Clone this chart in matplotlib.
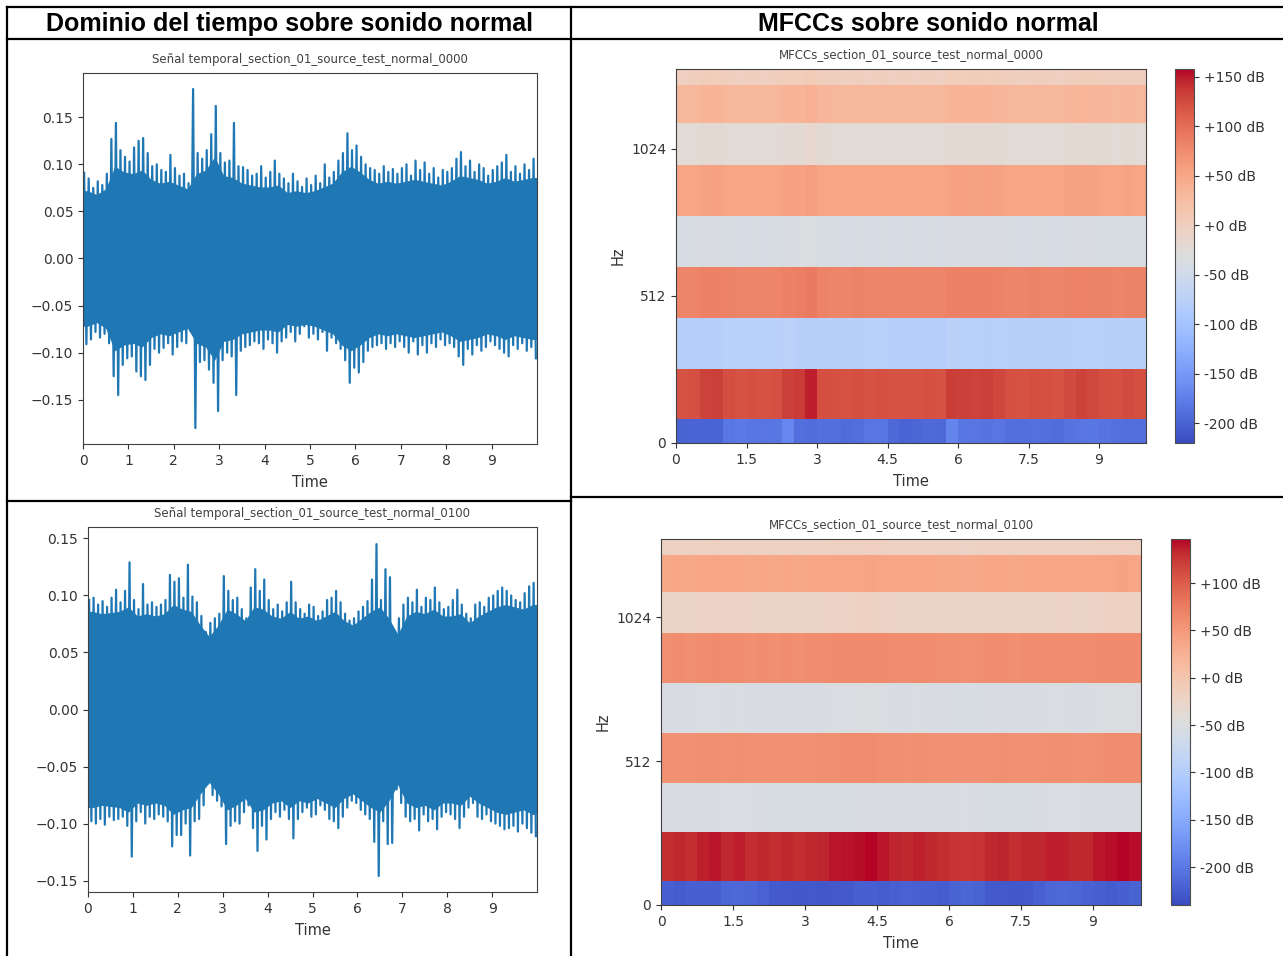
import numpy as np
import matplotlib
matplotlib.use("Agg")
import matplotlib.pyplot as plt
from matplotlib.lines import Line2D
from matplotlib.ticker import FormatStrFormatter
from matplotlib.transforms import Bbox

W, H = 1283, 956

col_titles = ["Dominio del tiempo sobre sonido normal", "MFCCs sobre sonido normal"]
clip_names = ["section_01_source_test_normal_0000", "section_01_source_test_normal_0100"]

# ---- waveform envelopes ----
# spike peaks every 0.1 s
peak_t = np.arange(100) * 0.1 + 0.05
# level up to which the trace is solid, every 0.2 s
core_t = np.arange(50) * 0.2 + 0.1

upper_0000 = [0.091, 0.085, 0.075, 0.082, 0.078, 0.090, 0.127, 0.144, 0.115, 0.108,
              0.103, 0.118, 0.125, 0.128, 0.112, 0.098, 0.100, 0.094, 0.092, 0.110,
              0.096, 0.088, 0.090, 0.080, 0.180, 0.112, 0.106, 0.115, 0.132, 0.162,
              0.112, 0.102, 0.104, 0.144, 0.098, 0.097, 0.094, 0.088, 0.090, 0.098,
              0.086, 0.092, 0.104, 0.090, 0.085, 0.080, 0.090, 0.082, 0.076, 0.085,
              0.078, 0.088, 0.080, 0.100, 0.086, 0.092, 0.104, 0.112, 0.133, 0.115,
              0.120, 0.108, 0.100, 0.096, 0.094, 0.090, 0.098, 0.092, 0.095, 0.090,
              0.096, 0.100, 0.088, 0.104, 0.094, 0.102, 0.090, 0.096, 0.086, 0.094,
              0.092, 0.096, 0.106, 0.113, 0.098, 0.104, 0.092, 0.100, 0.096, 0.088,
              0.094, 0.098, 0.102, 0.110, 0.092, 0.098, 0.090, 0.100, 0.094, 0.106]
lower_0000 = [-0.091, -0.086, -0.078, -0.084, -0.080, -0.090, -0.125, -0.145, -0.113, -0.106,
              -0.104, -0.120, -0.125, -0.129, -0.113, -0.096, -0.100, -0.095, -0.090, -0.102,
              -0.094, -0.088, -0.090, -0.077, -0.180, -0.110, -0.108, -0.118, -0.132, -0.162,
              -0.108, -0.100, -0.104, -0.145, -0.098, -0.094, -0.092, -0.088, -0.090, -0.096,
              -0.086, -0.090, -0.100, -0.088, -0.084, -0.078, -0.088, -0.080, -0.072, -0.084,
              -0.080, -0.086, -0.078, -0.098, -0.084, -0.090, -0.096, -0.108, -0.132, -0.116,
              -0.121, -0.110, -0.098, -0.094, -0.092, -0.090, -0.096, -0.090, -0.094, -0.088,
              -0.094, -0.100, -0.088, -0.102, -0.092, -0.100, -0.090, -0.094, -0.086, -0.092,
              -0.090, -0.094, -0.104, -0.113, -0.096, -0.102, -0.092, -0.098, -0.094, -0.088,
              -0.092, -0.096, -0.100, -0.104, -0.092, -0.096, -0.090, -0.098, -0.094, -0.106]
core_0000 = [0.072, 0.068, 0.074, 0.098, 0.092, 0.090, 0.094, 0.084, 0.080, 0.082,
             0.078, 0.074, 0.090, 0.094, 0.108, 0.088, 0.086, 0.080, 0.078, 0.076,
             0.076, 0.078, 0.070, 0.072, 0.070, 0.072, 0.076, 0.080, 0.092, 0.098,
             0.092, 0.084, 0.080, 0.082, 0.080, 0.082, 0.084, 0.082, 0.080, 0.078,
             0.082, 0.088, 0.086, 0.084, 0.080, 0.082, 0.086, 0.082, 0.084, 0.086]

upper_0100 = [0.096, 0.098, 0.092, 0.095, 0.090, 0.098, 0.105, 0.094, 0.104, 0.129,
              0.096, 0.088, 0.110, 0.092, 0.094, 0.090, 0.092, 0.096, 0.118, 0.112,
              0.115, 0.098, 0.127, 0.099, 0.094, 0.082, 0.068, 0.076, 0.080, 0.084,
              0.117, 0.104, 0.096, 0.098, 0.088, 0.080, 0.107, 0.123, 0.104, 0.114,
              0.096, 0.088, 0.092, 0.086, 0.094, 0.112, 0.094, 0.088, 0.084, 0.092,
              0.090, 0.082, 0.086, 0.096, 0.098, 0.104, 0.094, 0.084, 0.078, 0.080,
              0.086, 0.090, 0.095, 0.114, 0.145, 0.096, 0.123, 0.116, 0.068, 0.080,
              0.092, 0.098, 0.094, 0.105, 0.090, 0.098, 0.096, 0.107, 0.094, 0.088,
              0.090, 0.096, 0.105, 0.092, 0.084, 0.080, 0.092, 0.094, 0.090, 0.098,
              0.100, 0.104, 0.107, 0.104, 0.100, 0.096, 0.094, 0.102, 0.108, 0.111]
lower_0100 = [-0.098, -0.100, -0.096, -0.101, -0.094, -0.097, -0.096, -0.094, -0.102, -0.129,
              -0.098, -0.090, -0.100, -0.094, -0.096, -0.092, -0.094, -0.098, -0.120, -0.110,
              -0.110, -0.100, -0.128, -0.098, -0.096, -0.084, -0.065, -0.075, -0.080, -0.085,
              -0.118, -0.102, -0.098, -0.100, -0.090, -0.084, -0.104, -0.124, -0.102, -0.114,
              -0.096, -0.090, -0.094, -0.088, -0.096, -0.113, -0.096, -0.090, -0.086, -0.094,
              -0.092, -0.084, -0.088, -0.096, -0.098, -0.104, -0.094, -0.086, -0.080, -0.082,
              -0.088, -0.092, -0.096, -0.116, -0.146, -0.098, -0.118, -0.117, -0.070, -0.082,
              -0.094, -0.098, -0.096, -0.106, -0.092, -0.098, -0.096, -0.105, -0.094, -0.090,
              -0.092, -0.096, -0.104, -0.094, -0.086, -0.082, -0.094, -0.096, -0.092, -0.098,
              -0.100, -0.102, -0.105, -0.104, -0.102, -0.107, -0.100, -0.104, -0.108, -0.111]
core_0100 = [0.086, 0.084, 0.085, 0.086, 0.090, 0.082, 0.084, 0.082, 0.084, 0.092,
             0.088, 0.086, 0.074, 0.064, 0.074, 0.088, 0.084, 0.078, 0.090, 0.088,
             0.082, 0.080, 0.086, 0.080, 0.082, 0.078, 0.082, 0.086, 0.078, 0.074,
             0.080, 0.086, 0.090, 0.080, 0.066, 0.082, 0.086, 0.084, 0.088, 0.082,
             0.082, 0.084, 0.076, 0.082, 0.086, 0.090, 0.092, 0.090, 0.088, 0.092]

# ---- MFCC bands (bottom to top) and their variation over time ----
hz_edges = [0, 84, 258, 435, 613, 791, 968, 1113, 1246, 1302]
seg_t = np.arange(41) * 0.25

band_0000 = [-194, 120, -80, 82, -40, 52, -23, 33, 0]
low_var_0000 = [-6, -5, -4, -4, 12, 14, 12, 10, 12, 26, 5, 3, 6, 4, 2, 5, 10, 12, -2, -4,
                -3, 0, -2, 25, 12, 10, 8, 10, 5, 4, 6, 5, 3, 8, 10, 12, 8, 6, 4, 5]
red_var_0000 = [0, 2, 10, 12, 3, 0, 2, 0, 2, 12, 15, 28, 4, 2, 0, 3, 0, 2, 0, 1,
                0, 2, 0, 14, 12, 10, 12, 8, 2, 0, 3, 2, 0, 5, 10, 8, 4, 2, 5, 3]
range_0000 = (-220, 158)

band_0100 = [-225, 131, -54, 58, -54, 60, -24, 36, -20]
low_var_0100 = [2, 0, 3, 2, 2, 8, 10, 8, 4, -2, -4, -5, -4, -5, -3, -2, 2, 3, 0, 2,
                4, 2, 3, 0, 5, 8, 6, -2, -4, -5, -3, 2, 8, 10, 9, 4, 2, 0, 3, 5]
red_var_0100 = [0, 2, 0, 6, 8, 2, 6, 0, 2, 0, 3, 0, 2, 4, 8, 10, 12, 14, 8, 4,
                2, 5, 2, 0, -4, -5, -3, 2, 4, 0, 3, 2, 5, 6, 3, 2, 8, 12, 14, 12]
range_0100 = (-240, 146.5)


def px_axes(fig, x0, y0, x1, y1):
    return fig.add_axes([x0 / W, 1 - y1 / H, (x1 - x0) / W, (y1 - y0) / H])


def style_axes(ax):
    for s in ax.spines.values():
        s.set_color("0.25")
    ax.tick_params(labelsize=10, colors="0.2", length=3.5)


def draw_wave(ax, upper, lower, core, title, lim):
    core = np.array(core)
    tc = np.concatenate([[0], core_t, [10]])
    hi = np.concatenate([[core[0]], core, [core[-1]]])
    ax.fill_between(tc, -hi, hi, color="#1f77b4", lw=0)
    # the signal swings from each peak down to the matching trough
    zz_t = np.column_stack([peak_t - 0.025, peak_t + 0.025]).ravel()
    zz_v = np.column_stack([upper, lower]).ravel()
    ax.plot(zz_t, zz_v, color="#1f77b4", lw=1.6)
    ax.set_xlim(0, 10)
    ax.set_ylim(-lim, lim)
    ax.set_xticks(range(10))
    ax.set_yticks([-0.15, -0.10, -0.05, 0.0, 0.05, 0.10, 0.15])
    ax.set_yticklabels(["\u22120.15", "\u22120.10", "\u22120.05", "0.00", "0.05", "0.10", "0.15"])
    ax.set_xlabel("Time", fontsize=10.5, color="0.2", labelpad=5)
    ax.set_title(title, fontsize=8.5, color="0.25", pad=7)
    style_axes(ax)


def draw_mfcc(ax, cax, bands, low_var, red_var, vrange, title, cticks):
    bands = np.array(bands, dtype=float)
    vals = np.repeat(bands[:, None], len(seg_t) - 1, axis=1)
    vals[0] += np.array(low_var)
    vals[1] += np.array(red_var)
    vals[3:] += 0.25 * np.array(red_var)
    vals[2] += 0.2 * np.array(low_var)
    mesh = ax.pcolormesh(seg_t, hz_edges, vals, cmap="coolwarm",
                         vmin=vrange[0], vmax=vrange[1], shading="flat")
    ax.set_xlim(0, 10)
    ax.set_ylim(0, hz_edges[-1])
    ax.set_xticks([0, 1.5, 3, 4.5, 6, 7.5, 9])
    ax.set_xticklabels(["0", "1.5", "3", "4.5", "6", "7.5", "9"])
    ax.set_yticks([0, 512, 1024])
    ax.set_xlabel("Time", fontsize=10.5, color="0.2", labelpad=5)
    ax.set_ylabel("Hz", fontsize=10.5, color="0.2", labelpad=4)
    ax.set_title(title, fontsize=8.5, color="0.25", pad=8)
    style_axes(ax)
    cb = fig.colorbar(mesh, cax=cax, ticks=cticks, format=FormatStrFormatter("%+2.0f dB"))
    cb.outline.set_edgecolor("0.3")
    cax.tick_params(labelsize=10, colors="0.2", length=3.5)


fig = plt.figure(figsize=(W / 100, H / 100), dpi=100)
fig.patch.set_facecolor("white")

ax_tl = px_axes(fig, 83, 73, 537, 444)
draw_wave(ax_tl, upper_0000, lower_0000, core_0000, "Se\u00f1al temporal_" + clip_names[0], 0.197)

ax_bl = px_axes(fig, 88, 527, 537, 892)
draw_wave(ax_bl, upper_0100, lower_0100, core_0100, "Se\u00f1al temporal_" + clip_names[1], 0.160)

ax_tr = px_axes(fig, 676, 69, 1146, 443)
cax_tr = px_axes(fig, 1175, 69, 1194, 443)
draw_mfcc(ax_tr, cax_tr, band_0000, low_var_0000, red_var_0000, range_0000,
          "MFCCs_" + clip_names[0], [-200, -150, -100, -50, 0, 50, 100, 150])

ax_br = px_axes(fig, 661, 539, 1141, 905)
cax_br = px_axes(fig, 1171, 539, 1190, 905)
draw_mfcc(ax_br, cax_br, band_0100, low_var_0100, red_var_0100, range_0100,
          "MFCCs_" + clip_names[1], [-200, -150, -100, -50, 0, 50, 100])

# title of the next clip, cut off by the cell border
peek = fig.text(910 / W, 1 - 503 / H, "MFCCs_section_01_source_test_normal_0002",
                ha="center", va="center", fontsize=8.5, color="0.25")
peek.set_clip_box(Bbox.from_extents(572, H - 497, W, H - 490))

# table grid
for x0, y0, x1, y1 in [(7, 7, W, 7), (7, 39, W, 39), (7, 501, 571, 501), (571, 497, W, 497),
                       (7, 7, 7, H), (571, 7, 571, H)]:
    fig.add_artist(Line2D([x0 / W, x1 / W], [1 - y0 / H, 1 - y1 / H],
                          transform=fig.transFigure, color="black", lw=1.6))

fig.text(289 / W, 1 - 24 / H, col_titles[0], ha="center", va="center",
         fontsize=18, fontweight="bold", family="Liberation Sans")
fig.text(928 / W, 1 - 24 / H, col_titles[1], ha="center", va="center",
         fontsize=18, fontweight="bold", family="Liberation Sans")

fig.savefig("out.png", dpi=100)
